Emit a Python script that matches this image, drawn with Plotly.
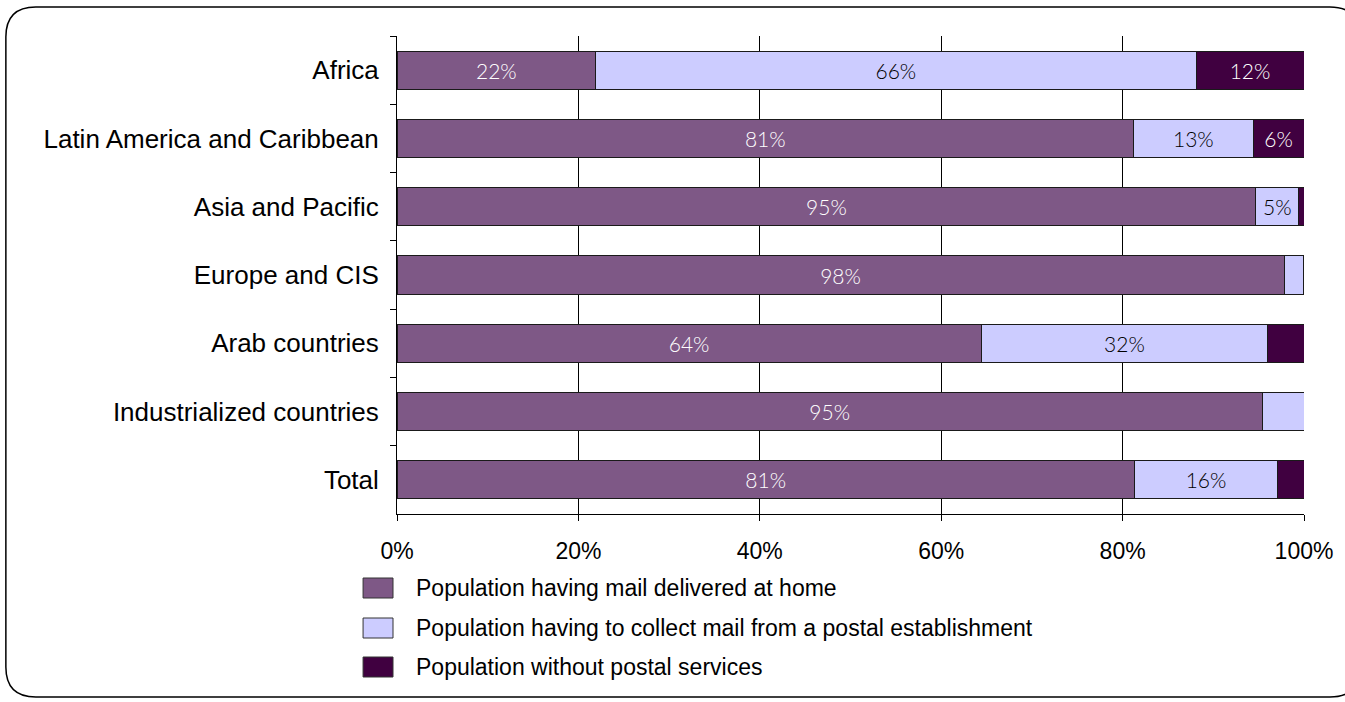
import plotly.graph_objects as go

# ---------------- data ----------------
categories = ["Africa", "Latin America and Caribbean", "Asia and Pacific",
              "Europe and CIS", "Arab countries", "Industrialized countries", "Total"]
series_names = ["Population having mail delivered at home",
                "Population having to collect mail from a postal establishment",
                "Population without postal services"]
home = [21.9, 81.2, 94.7, 97.8, 64.4, 95.4, 81.3]
collect = [66.2, 13.2, 4.7, 2.1, 31.6, 4.6, 15.8]
without = [11.9, 5.6, 0.6, 0.1, 4.0, 0.0, 2.9]
home_labels = ["22%", "81%", "95%", "98%", "64%", "95%", "81%"]
collect_labels = ["66%", "13%", "5%", "", "32%", "", "16%"]
without_labels = ["12%", "6%", "", "", "", "", ""]
x_ticks = [0, 20, 40, 60, 80, 100]
x_tick_labels = ["0%", "20%", "40%", "60%", "80%", "100%"]

# ---------------- style ----------------
colors = ["#7E5886", "#CCCCFF", "#400040"]
text_colors = ["white", "black", "white"]
W, H = 1345, 702
L, R, T, B = 397, 39, 36, 188
PW, PH = W - L - R, H - T - B
label_font = "Lato, 'Liberation Sans', sans-serif"
main_font = "'Liberation Sans', Arial, sans-serif"


def px_x(px):
    return (px - L) / PW


def px_y(py):
    return (H - B - py) / PH


fig = go.Figure()
for name, vals, labels, col, tcol in zip(series_names, [home, collect, without],
                                         [home_labels, collect_labels, without_labels],
                                         colors, text_colors):
    fig.add_trace(go.Bar(
        y=categories, x=vals, name=name, orientation="h",
        marker=dict(color=col, line=dict(color="#1a1a1a", width=1)),
        text=labels, textposition="inside", insidetextanchor="middle",
        textangle=0, textfont=dict(family=label_font, size=21, color=tcol, weight=300),
        showlegend=False,
    ))

# ---------------- manual legend ----------------
legend_rows = [588, 628, 667]
shapes = []
annotations = []
for name, col, ry in zip(series_names, colors, legend_rows):
    shapes.append(dict(type="rect", xref="paper", yref="paper",
                       x0=px_x(363), x1=px_x(393), y0=px_y(ry - 10), y1=px_y(ry + 10),
                       fillcolor=col, line=dict(color="#333333", width=1)))
    annotations.append(dict(xref="paper", yref="paper", x=px_x(414), y=px_y(ry),
                            text=name, showarrow=False, xanchor="left", yanchor="middle",
                            font=dict(family=main_font, size=23, color="black")))

# ---------------- rounded border ----------------
bx0, by0, bx1, by1, rr = 5, 7, 1362, 697, 30
pts = [
    ("M", [(bx0 + rr, by0)]),
    ("L", [(bx1 - rr, by0)]),
    ("Q", [(bx1, by0), (bx1, by0 + rr)]),
    ("L", [(bx1, by1 - rr)]),
    ("Q", [(bx1, by1), (bx1 - rr, by1)]),
    ("L", [(bx0 + rr, by1)]),
    ("Q", [(bx0, by1), (bx0, by1 - rr)]),
    ("L", [(bx0, by0 + rr)]),
    ("Q", [(bx0, by0), (bx0 + rr, by0)]),
]
path = ""
for cmd, ps in pts:
    path += cmd + " ".join(f"{px_x(a):.5f},{px_y(b):.5f}" for a, b in ps) + " "
path += "Z"
shapes.append(dict(type="path", xref="paper", yref="paper", path=path,
                   line=dict(color="black", width=1.5), layer="below"))

fig.update_layout(
    width=W, height=H,
    margin=dict(l=L, r=R, t=T, b=B),
    barmode="stack", bargap=0.44,
    plot_bgcolor="white", paper_bgcolor="white",
    font=dict(family=main_font, color="black"),
    shapes=shapes, annotations=annotations,
    showlegend=False,
    xaxis=dict(range=[0, 100], tickvals=x_ticks, ticktext=x_tick_labels,
               showgrid=True, gridcolor="black", gridwidth=1, zeroline=False,
               showline=True, linecolor="black", linewidth=1,
               ticks="outside", ticklen=6, tickcolor="black",
               ticklabelstandoff=10,
               tickfont=dict(family=main_font, size=23, color="black"),
               fixedrange=True),
    yaxis=dict(autorange="reversed", showline=True, linecolor="black", linewidth=1,
               ticks="outside", ticklen=6, tickcolor="black", tickson="boundaries",
               showgrid=False, ticklabelstandoff=12,
               tickfont=dict(family=main_font, size=26, color="black"),
               fixedrange=True),
)

fig.write_html("out.html", config={"displayModeBar": False},
               post_script="document.body.style.margin='0';document.body.style.overflow='hidden';")
